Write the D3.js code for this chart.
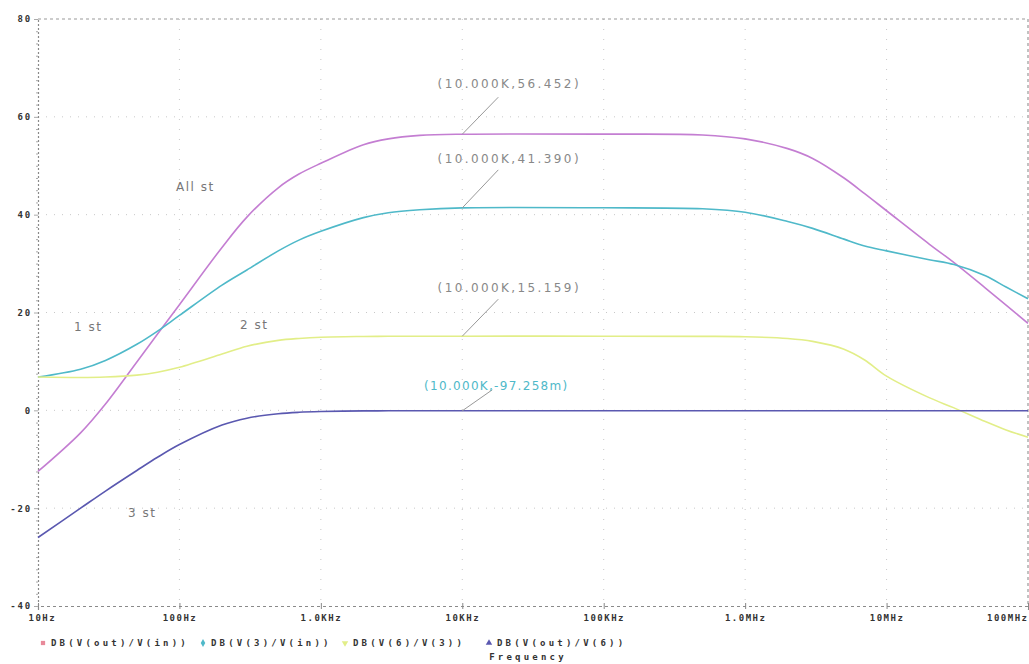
<!DOCTYPE html>
<html>
<head>
<meta charset="utf-8">
<script src="https://cdn.jsdelivr.net/npm/d3@7"></script>
<style>
  body { margin: 0; background: #fff; }
  svg { display: block; }
</style>
</head>
<body>
<div id="chart"></div>
<script>
// frequency points (Hz) shared by all traces
const freqs = [10, 20, 30, 50, 70, 100, 200, 300, 500, 700, 1e3, 2e3, 3e3, 5e3, 1e4, 1e5, 5e5,
               1e6, 2e6, 3e6, 5e6, 7e6, 1e7, 2e7, 3e7, 5e7, 7e7, 1e8];

// DB(V(out)/V(in))  - "All st"
const allSt = [-12.5, -4.6, 1.3, 9.9, 15.6, 21.6, 33.3, 39.5, 45.5, 48.3, 50.5, 54.3, 55.5, 56.2, 56.452, 56.46, 56.3,
               55.5, 53.5, 51.5, 47.5, 44.3, 40.8, 34, 30.2, 25, 21.5, 17.8];
// DB(V(3)/V(in))  - "1 st"
const st1 = [6.8, 8.4, 10.2, 13.5, 16.2, 19.4, 25.6, 28.7, 32.6, 34.8, 36.6, 39.4, 40.4, 41.0, 41.39, 41.4, 41.2,
             40.5, 38.6, 37.2, 35.0, 33.6, 32.6, 30.8, 29.8, 27.5, 25.2, 22.8];
// DB(V(6)/V(3))  - "2 st"
const st2 = [6.8, 6.7, 6.8, 7.2, 7.8, 8.8, 11.5, 13.1, 14.3, 14.7, 14.95, 15.1, 15.14, 15.15, 15.159, 15.16, 15.12,
             15.05, 14.7, 14.1, 12.5, 10.3, 7.0, 2.6, 0.5, -2.3, -4.0, -5.5];
// DB(V(out)/V(6))  - "3 st"
const st3 = [-26, -20, -16.5, -12.3, -9.6, -7.0, -3.0, -1.6, -0.7, -0.4, -0.25, -0.12, -0.1, -0.1, -0.097, -0.097, -0.097,
             -0.097, -0.1, -0.1, -0.1, -0.1, -0.1, -0.1, -0.1, -0.1, -0.1, -0.1];

const xTicks = [10, 100, 1e3, 1e4, 1e5, 1e6, 1e7, 1e8];
const xTickLabels = ["10Hz", "100Hz", "1.0KHz", "10KHz", "100KHz", "1.0MHz", "10MHz", "100MHz"];
const yTicks = [-40, -20, 0, 20, 40, 60, 80];

const legendNames = ["DB(V(out)/V(in))", "DB(V(3)/V(in))", "DB(V(6)/V(3))", "DB(V(out)/V(6))"];
const traceLabels = ["All st", "1 st", "2 st", "3 st"];
const cursorText = ["(10.000K,56.452)", "(10.000K,41.390)", "(10.000K,15.159)", "(10.000K,-97.258m)"];
const cursorFreq = 1e4;
const cursorVals = [56.452, 41.390, 15.159, -0.097258];

const W = 1029, H = 664;
const margin = {top: 19, right: 1, bottom: 58, left: 38};

const svg = d3.select("#chart")
  .append("svg")
  .attr("width", W)
  .attr("height", H);

const x = d3.scaleLog()
  .domain([10, 1e8])
  .range([margin.left, W - margin.right]);

const y = d3.scaleLinear()
  .domain([-40, 80])
  .range([H - margin.bottom, margin.top]);

const x0 = margin.left, x1 = W - margin.right, yTop = margin.top, yBot = H - margin.bottom;

// faint dotted grid
svg.append("g")
  .selectAll("line")
  .data(yTicks.filter(d => d > -40 && d < 80))
  .join("line")
  .attr("x1", x0).attr("x2", x1)
  .attr("y1", d => y(d)).attr("y2", d => y(d))
  .attr("stroke", "#c8c8c8")
  .attr("stroke-width", 1)
  .attr("stroke-dasharray", "1,7");

svg.append("g")
  .selectAll("line")
  .data(xTicks.slice(1, -1))
  .join("line")
  .attr("x1", d => x(d)).attr("x2", d => x(d))
  .attr("y1", yTop).attr("y2", yBot)
  .attr("stroke", "#c8c8c8")
  .attr("stroke-width", 1)
  .attr("stroke-dasharray", "1,9");

// frame: top and right dashed
svg.append("path")
  .attr("d", `M${x0},${yTop}H${x1}V${yBot}`)
  .attr("fill", "none")
  .attr("stroke", "#9a9a9a")
  .attr("stroke-width", 1.2)
  .attr("stroke-dasharray", "3,3");

// bottom axis
const xAxis = svg.append("g")
  .attr("transform", `translate(0,${yBot})`)
  .call(d3.axisBottom(x).tickValues(xTicks).tickSize(4).tickFormat((d, i) => xTickLabels[i]));
xAxis.select(".domain").attr("stroke", "#8a8a8a").attr("stroke-dasharray", "3,3").attr("stroke-width", 1.2);
xAxis.selectAll(".tick line").attr("stroke", "#888").attr("y1", -3).attr("y2", 3);
xAxis.selectAll(".tick text")
  .attr("y", 9)
  .attr("fill", "#333")
  .style("font", "bold 9px 'DejaVu Sans Mono'")
  .style("letter-spacing", "1.5px")
  .attr("text-anchor", (d, i) => i === 0 ? "start" : (i === xTicks.length - 1 ? "end" : "middle"))
  .attr("dx", (d, i) => i === 0 ? -10 : 0);

// left axis
const yAxis = svg.append("g")
  .attr("transform", `translate(${x0},0)`)
  .call(d3.axisLeft(y).tickValues(d3.range(-40, 81, 2.5)).tickSize(3)
        .tickFormat(d => yTicks.includes(d) ? d : ""));
yAxis.select(".domain").attr("stroke", "#8a8a8a").attr("stroke-dasharray", "2,2").attr("stroke-width", 1.2);
yAxis.selectAll(".tick line").attr("stroke", "#aaa").attr("x2", d => yTicks.includes(d) ? -4 : -2);
yAxis.selectAll(".tick text")
  .attr("x", -6)
  .attr("fill", "#333")
  .style("font", "bold 9px 'DejaVu Sans Mono'")
  .style("letter-spacing", "1.8px");

// traces
const colors = ["#c47ed2", "#4fb9c9", "#e2ee88", "#5a58b0"];
const series = [allSt, st1, st2, st3];

const line = d3.line()
  .x(d => x(d[0]))
  .y(d => y(d[1]))
  .curve(d3.curveCatmullRom.alpha(0.5));

series.forEach((vals, i) => {
  svg.append("path")
    .datum(freqs.map((f, j) => [f, vals[j]]))
    .attr("fill", "none")
    .attr("stroke", colors[i])
    .attr("stroke-width", 1.6)
    .attr("d", line);
});

// trace labels
const labelPos = [[176, 191], [74, 331], [240, 329], [128, 517]];
svg.append("g")
  .selectAll("text")
  .data(traceLabels)
  .join("text")
  .attr("x", (d, i) => labelPos[i][0])
  .attr("y", (d, i) => labelPos[i][1])
  .attr("fill", "#777")
  .style("font", "12px 'DejaVu Sans'")
  .style("letter-spacing", "1.5px")
  .text(d => d);

// cursor annotations at 10kHz
const annOff = [[36, -37, 47, -46], [36, -38, 47, -45], [36, -37, 47, -44], [30, -21, 34, -21]];
const annColor = ["#888", "#888", "#888", "#4fb9c9"];
const annSpacing = [2.4, 2.4, 2.4, 1.3];
cursorVals.forEach((v, i) => {
  const px = x(cursorFreq), py = y(v);
  svg.append("line")
    .attr("x1", px).attr("y1", py)
    .attr("x2", px + annOff[i][0]).attr("y2", py + annOff[i][1])
    .attr("stroke", "#999")
    .attr("stroke-width", 1);
  svg.append("text")
    .attr("x", px + annOff[i][2])
    .attr("y", py + annOff[i][3])
    .attr("text-anchor", "middle")
    .attr("fill", annColor[i])
    .style("font", "12px 'DejaVu Sans'")
    .style("letter-spacing", annSpacing[i] + "px")
    .text(cursorText[i]);
});

// legend
const legX = [43, 203, 345, 489];
const leg = svg.append("g").attr("transform", `translate(0,${H - 18})`);
legendNames.forEach((name, i) => {
  const g = leg.append("g").attr("transform", `translate(${legX[i]},0)`);
  const sym = [d3.symbolSquare, d3.symbolDiamond, d3.symbolTriangle, d3.symbolTriangle][i];
  g.append("path")
    .attr("d", d3.symbol(sym, 18)())
    .attr("transform", i === 2 ? "translate(0,-3) rotate(180)" : "translate(0,-3)")
    .attr("fill", i === 0 ? "#e88a9a" : colors[i])
    .attr("stroke", "none");
  g.append("text")
    .attr("x", 8)
    .attr("y", 0)
    .attr("fill", "#333")
    .style("font", "bold 9px 'DejaVu Sans Mono'")
    .style("letter-spacing", "3.2px")
    .text(name);
});

svg.append("text")
  .attr("x", 528)
  .attr("y", H - 4)
  .attr("text-anchor", "middle")
  .attr("fill", "#333")
  .style("font", "bold 9px 'DejaVu Sans Mono'")
  .style("letter-spacing", "3.2px")
  .text("Frequency");
</script>
</body>
</html>
